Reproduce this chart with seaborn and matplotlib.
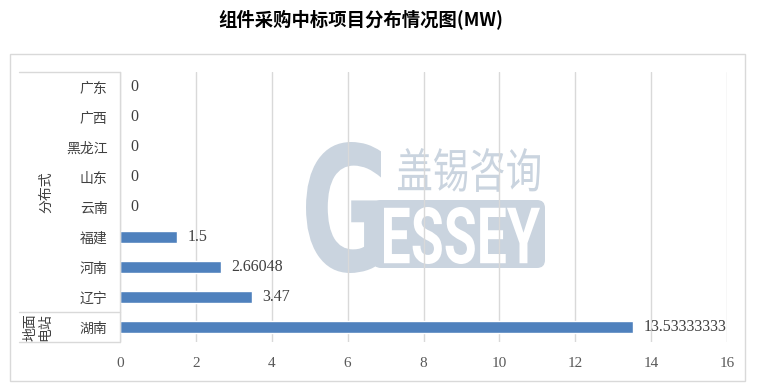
import matplotlib
matplotlib.use('Agg')
import numpy as np
import pandas as pd
import seaborn as sns
import matplotlib.pyplot as plt
from matplotlib.textpath import TextPath
from matplotlib.patches import PathPatch, FancyBboxPatch, Rectangle
from matplotlib.lines import Line2D
from matplotlib.font_manager import FontProperties
from matplotlib.transforms import Affine2D

# ---- data ----
title = '组件采购中标项目分布情况图(MW)'
provinces = ['广东', '广西', '黑龙江', '山东', '云南', '福建', '河南', '辽宁', '湖南']
values = [0, 0, 0, 0, 0, 1.5, 2.66048, 3.47, 13.53333333]
value_labels = ['0', '0', '0', '0', '0', '1.5', '2.66048', '3.47', '13.53333333']
group_names = ['分布式', '地面\n电站']
x_ticks = [0, 2, 4, 6, 8, 10, 12, 14, 16]

sns.set_theme(style='white')
plt.rcParams['font.family'] = ['Noto Sans CJK SC', 'DejaVu Sans']

W, H = 758, 392
fig = plt.figure(figsize=(W / 100, H / 100), dpi=100)


def fx(px):
    return px / W


def fy(py):
    return 1 - py / H


GRID = '#D9D9D9'
TXT = '#404040'
WM = '#CAD4DF'

# ---- watermark (behind axes) ----
def fit_text(s, x0, y0, x1, y1, color, prop, z=-2):
    tp = TextPath((0, 0), s, size=100, prop=prop)
    bb = tp.get_extents()
    sx = (x1 - x0) / bb.width / 100
    sy = (y1 - y0) / bb.height / 100
    tr = (Affine2D().translate(-bb.x0, -bb.y0).scale(sx, sy)
          .translate(x0 / 100, (H - y1) / 100) + fig.dpi_scale_trans)
    p = PathPatch(tp, transform=tr, fc=color, ec='none', zorder=z)
    fig.add_artist(p)

box = FancyBboxPatch((373 / 100, (H - 268) / 100), (545 - 373) / 100, (268 - 200) / 100,
                     boxstyle='round,pad=0,rounding_size=0.08',
                     transform=fig.dpi_scale_trans, fc=WM, ec='none', zorder=-3)
fig.add_artist(box)
fit_text('G', 306, 142, 384, 273, WM, FontProperties(family='DejaVu Sans', weight='bold'), z=-3)
fit_text('ESSEY', 384, 207, 540, 264, 'white', FontProperties(family='Roboto', weight='bold'))
fit_text('盖锡咨询', 398, 148, 540, 192, WM, FontProperties(family='Noto Sans CJK SC'))

# ---- outer frame ----
fig.add_artist(Rectangle((fx(10), fy(381)), fx(745) - fx(10), (381 - 54) / H,
                         transform=fig.transFigure, fill=False, ec=GRID, lw=1))

# ---- axes ----
ax = fig.add_axes([fx(120), fy(342), fx(727) - fx(120), (342 - 72) / H])
ax.set_facecolor('none')
df = pd.DataFrame({'province': provinces, 'value': values})
sns.barplot(data=df, x='value', y='province', color='#4F81BD', saturation=1,
            width=0.38, ax=ax, zorder=3)
ax.set_xlim(0, 16)
ax.set_ylim(8.5, -0.5)
ax.set_xticks(x_ticks)
ax.set_xticklabels([str(t) for t in x_ticks])
ax.set_xlabel('')
ax.set_ylabel('')
ax.xaxis.grid(True, color=GRID, lw=1)
ax.yaxis.grid(False)
ax.set_axisbelow(True)
for s in ax.spines.values():
    s.set_visible(False)
ax.tick_params(axis='x', length=0, pad=11, labelsize=11, labelcolor='#595959')
ax.tick_params(axis='y', length=0, pad=9, labelsize=10, labelcolor=TXT)
for lab in ax.get_xticklabels():
    lab.set_fontfamily('Liberation Serif')

for i, (v, lab) in enumerate(zip(values, value_labels)):
    ax.annotate(lab, (v, i), xytext=(7.5, 0), textcoords='offset points',
                va='center', ha='left', fontsize=11.5, color=TXT,
                family='Liberation Serif')

# ---- category group table ----
for yy in (72, 312, 342):
    fig.add_artist(Line2D([fx(19), fx(120)], [fy(yy), fy(yy)],
                          transform=fig.transFigure, color=GRID, lw=1))
fig.add_artist(Line2D([fx(120), fx(120)], [fy(72), fy(342)],
                      transform=fig.transFigure, color=GRID, lw=1))
fig.text(fx(46), fy(192), group_names[0], rotation=90, ha='center', va='center',
         fontsize=10, color=TXT)
fig.text(fx(38), fy(327), group_names[1], rotation=90, ha='center', va='center',
         fontsize=10, color=TXT, linespacing=1.0)

# ---- title ----
fig.text(fx(361), fy(19), title, ha='center', va='center', fontsize=13.2,
         fontweight='bold', color='black')

fig.savefig('out.png', dpi=100)
